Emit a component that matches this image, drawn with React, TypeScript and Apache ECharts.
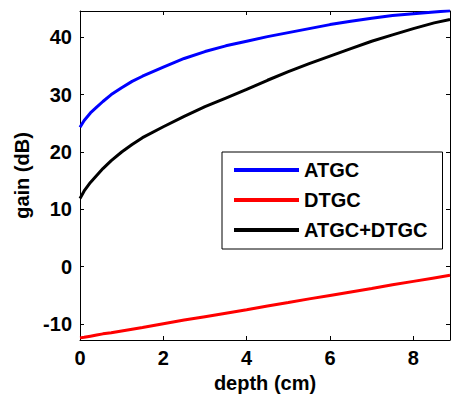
import React, { useEffect, useRef } from "react";
import * as echarts from "echarts";

const depth = [0, 0.1, 0.25, 0.4, 0.55, 0.75, 1, 1.25, 1.5, 2, 2.5, 3, 3.5, 4, 4.5, 5, 5.5, 6, 6.5, 7, 7.5, 8, 8.5, 8.88];
const atgc = [24.3, 25.5, 26.8, 27.8, 28.8, 30.0, 31.2, 32.3, 33.2, 34.8, 36.3, 37.5, 38.5, 39.3, 40.1, 40.8, 41.5, 42.2, 42.8, 43.3, 43.8, 44.1, 44.4, 44.6];
const dtgc = [-12.4, -12.3, -12.1, -11.9, -11.7, -11.5, -11.2, -10.9, -10.6, -9.95, -9.3, -8.7, -8.1, -7.5, -6.85, -6.25, -5.6, -5.0, -4.4, -3.8, -3.15, -2.55, -1.95, -1.5];
const combined = [11.9, 13.2, 14.7, 15.9, 17.1, 18.5, 20.0, 21.3, 22.5, 24.4, 26.2, 27.9, 29.4, 30.9, 32.5, 34.0, 35.4, 36.7, 38.0, 39.3, 40.4, 41.5, 42.5, 43.1];
const seriesNames = ["ATGC", "DTGC", "ATGC+DTGC"];
const seriesColors = ["#0000ff", "#ff0000", "#000000"];

const FONT = "'Liberation Sans', Arial, Helvetica, sans-serif";

export default function App() {
  const ref = useRef<HTMLDivElement>(null);
  useEffect(() => {
    if (!ref.current) return;
    const chart = echarts.init(ref.current, undefined, { renderer: "svg" });
    const labelStyle = { fontSize: 20, fontWeight: "bold" as const, color: "#000", fontFamily: FONT };
    const lists = [atgc, dtgc, combined];
    const xMin = 0, xMax = 8.88, yMin = -12.77, yMax = 44.57;
    const xCommon = {
      type: "value" as const,
      min: xMin,
      max: xMax,
      interval: 2,
      splitLine: { show: false },
      axisLine: { show: true, onZero: false, lineStyle: { color: "#000", width: 1 } },
      axisTick: { show: true, inside: true, length: 4, lineStyle: { color: "#000" } },
    };
    const yCommon = {
      type: "value" as const,
      min: yMin,
      max: yMax,
      splitNumber: 5,
      splitLine: { show: false },
      axisLine: { show: true, onZero: false, lineStyle: { color: "#000", width: 1 } },
      axisTick: { show: true, inside: true, length: 4, lineStyle: { color: "#000" } },
    };
    chart.setOption({
      animation: false,
      backgroundColor: "#fff",
      textStyle: { fontFamily: FONT },
      grid: { left: 80, right: 1, top: 11, bottom: 56, containLabel: false },
      legend: {
        orient: "vertical",
        left: 222,
        top: 152,
        data: seriesNames,
        icon: "rect",
        itemWidth: 65,
        itemHeight: 4,
        itemGap: 10,
        padding: [8, 15, 9, 12],
        borderColor: "#000",
        borderWidth: 1,
        backgroundColor: "#fff",
        textStyle: { ...labelStyle },
      },
      xAxis: [
        {
          ...xCommon,
          position: "bottom",
          axisLabel: {
            ...labelStyle,
            margin: 8,
            showMaxLabel: false,
            formatter: (v: number) => (Math.abs(v % 2) < 1e-6 ? String(v) : ""),
          },
          name: "depth (cm)",
          nameLocation: "middle",
          nameGap: 33,
          nameTextStyle: { ...labelStyle },
        },
        { ...xCommon, position: "top", axisLabel: { show: false } },
      ],
      yAxis: [
        {
          ...yCommon,
          position: "left",
          axisLabel: {
            ...labelStyle,
            margin: 8,
            showMinLabel: false,
            showMaxLabel: false,
            formatter: (v: number) => (Math.abs(v % 10) < 1e-6 ? String(v) : ""),
          },
          name: "gain (dB)",
          nameLocation: "middle",
          nameGap: 47,
          nameTextStyle: { ...labelStyle },
        },
        { ...yCommon, position: "right", axisLabel: { show: false } },
      ],
      series: seriesNames.map((name, i) => ({
        name,
        type: "line",
        xAxisIndex: 0,
        yAxisIndex: 0,
        showSymbol: false,
        symbol: "none",
        smooth: false,
        color: seriesColors[i],
        itemStyle: { color: seriesColors[i] },
        lineStyle: { color: seriesColors[i], width: 3 },
        data: depth.map((d, k) => [d, lists[i][k]]),
      })),
    });
    return () => chart.dispose();
  }, []);
  return <div ref={ref} style={{ position: "fixed", left: 0, top: 0, width: 451, height: 398 }} />;
}
